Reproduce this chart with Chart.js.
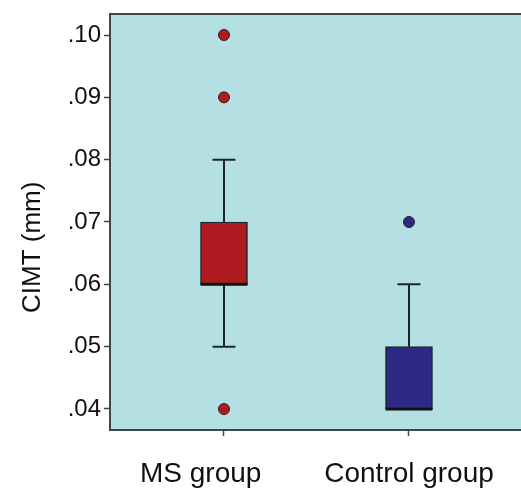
<!DOCTYPE html>
<html>
<head>
<meta charset="utf-8">
<script src="https://cdn.jsdelivr.net/npm/chart.js@4"></script>
<style>
  html, body { margin: 0; background: #fff; overflow: hidden; }
  #wrap { width: 521px; height: 491px; position: relative; }
  canvas { display: block; }
</style>
</head>
<body>
<div id="wrap"><canvas id="chart1"></canvas></div>
<script>
// box plot data
let groups = ["MS group", "Control group"];
let q1 = [0.06, 0.04];
let medians = [0.06, 0.04];
let q3 = [0.07, 0.05];
let whiskerLow = [0.05, 0.04];
let whiskerHigh = [0.08, 0.06];
let outliers = [[0.04, 0.09, 0.10], [0.07]];
let yTicks = [0.04, 0.05, 0.06, 0.07, 0.08, 0.09, 0.10];
let groupColors = ["#ae1b20", "#2c2a84"];

let boxHalf = 0.127;
let capHalf = 0.062;
let lineCol = "#1c2626";
let axisCol = "#3a4848";

// boxes as floating bars
let boxData = [];
for (let i = 0; i < groups.length; i++) {
    boxData.push({ x: i + 1, y: [q1[i], q3[i]] });
}

// median lines
let medianData = [];
for (let i = 0; i < groups.length; i++) {
    medianData.push({ x: i + 1 - boxHalf, y: medians[i] });
    medianData.push({ x: i + 1 + boxHalf, y: medians[i] });
    medianData.push({ x: i + 1.5, y: null });
}

// whiskers + caps
let whiskerData = [];
for (let i = 0; i < groups.length; i++) {
    let x = i + 1;
    if (whiskerHigh[i] > q3[i]) {
        whiskerData.push({ x: x, y: q3[i] }, { x: x, y: whiskerHigh[i] }, { x: x, y: null });
        whiskerData.push({ x: x - capHalf, y: whiskerHigh[i] }, { x: x + capHalf, y: whiskerHigh[i] }, { x: x, y: null });
    }
    if (whiskerLow[i] < q1[i]) {
        whiskerData.push({ x: x, y: q1[i] }, { x: x, y: whiskerLow[i] }, { x: x, y: null });
        whiskerData.push({ x: x - capHalf, y: whiskerLow[i] }, { x: x + capHalf, y: whiskerLow[i] }, { x: x, y: null });
    }
}

// outlier dots
let outlierData = [];
let outlierColors = [];
for (let i = 0; i < groups.length; i++) {
    for (let v of outliers[i]) {
        outlierData.push({ x: i + 1, y: v });
        outlierColors.push(groupColors[i]);
    }
}

const plotBg = {
    id: "plotBg",
    beforeDraw(chart) {
        let a = chart.chartArea;
        let c = chart.ctx;
        c.save();
        c.fillStyle = "#b4e0e3";
        c.fillRect(a.left, a.top, a.right - a.left, a.bottom - a.top);
        c.restore();
    },
    afterDraw(chart) {
        let a = chart.chartArea;
        let c = chart.ctx;
        c.save();
        c.strokeStyle = axisCol;
        c.lineWidth = 2;
        c.beginPath();
        c.moveTo(a.left, a.top);
        c.lineTo(a.right, a.top);
        c.stroke();
        c.restore();
    }
};

let ctx = document.getElementById("chart1").getContext("2d");
let chart1 = new Chart(ctx, {
    type: "bar",
    data: {
        datasets: [
            {
                type: "line",
                data: whiskerData,
                borderColor: lineCol,
                borderWidth: 2,
                pointRadius: 0,
                spanGaps: false,
                order: 3
            },
            {
                type: "bar",
                data: boxData,
                backgroundColor: groupColors,
                borderColor: lineCol,
                borderWidth: 1.5,
                borderSkipped: false,
                barThickness: 47,
                order: 2
            },
            {
                type: "line",
                data: medianData,
                borderColor: "#111",
                borderWidth: 3,
                pointRadius: 0,
                spanGaps: false,
                order: 1
            },
            {
                type: "line",
                data: outlierData,
                showLine: false,
                pointRadius: 5.5,
                pointBackgroundColor: outlierColors,
                pointBorderColor: "#3a1a1a",
                pointBorderWidth: 1,
                order: 0
            }
        ]
    },
    options: {
        responsive: true,
        maintainAspectRatio: false,
        animation: false,
        layout: { autoPadding: false, padding: { top: 14, left: 0, right: 0, bottom: 0 } },
        plugins: { legend: { display: false }, tooltip: { enabled: false } },
        scales: {
            x: {
                type: "linear",
                min: 0.3838,
                max: 2.6054,
                offset: false,
                afterBuildTicks: (s) => { s.ticks = groups.map((g, i) => ({ value: i + 1 })); },
                afterFit: (s) => { s.height = 61; s.paddingLeft = 0; s.paddingRight = 0; },
                grid: { offset: false, drawOnChartArea: false, drawTicks: true, tickLength: 6, tickColor: axisCol, tickWidth: 1.5 },
                border: { display: true, color: axisCol, width: 2 },
                ticks: {
                    autoSkip: false,
                    maxRotation: 0,
                    padding: 21,
                    color: "#111",
                    font: { family: "'Liberation Sans', Arial, sans-serif", size: 28 },
                    callback: (v) => v === 1 ? "MS group\u00a0\u00a0\u00a0\u00a0\u00a0\u00a0" : "Control group"
                }
            },
            y: {
                type: "linear",
                min: 0.03663,
                max: 0.10337,
                afterBuildTicks: (s) => { s.ticks = yTicks.map((v) => ({ value: v })); },
                afterFit: (s) => { s.width = 110; s.paddingTop = 0; s.paddingBottom = 0; },
                grid: { drawOnChartArea: false, drawTicks: true, tickLength: 6, tickColor: axisCol, tickWidth: 1.5 },
                border: { display: true, color: axisCol, width: 2 },
                ticks: {
                    padding: 3,
                    color: "#111",
                    font: { family: "'Liberation Sans', Arial, sans-serif", size: 24 },
                    callback: (v) => v.toFixed(2).replace(/^0/, "")
                },
                title: {
                    display: true,
                    text: "CIMT (mm)\u00a0\u00a0\u00a0\u00a0\u00a0\u00a0\u00a0",
                    color: "#111",
                    padding: { top: 17, bottom: 0 },
                    font: { family: "'Liberation Sans', Arial, sans-serif", size: 26 }
                }
            }
        }
    },
    plugins: [plotBg]
});
</script>
</body>
</html>
